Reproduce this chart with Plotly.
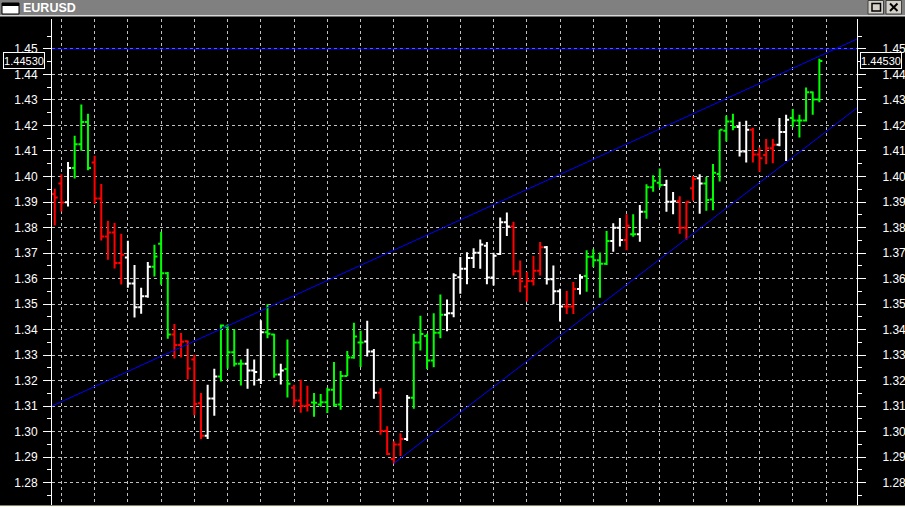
import plotly.graph_objects as go

# ---------------- data ----------------
SYMBOL = "EURUSD"
LAST_PRICE = 1.4453
LAST_PRICE_LABEL = "1.44530"

OPEN = [1.3931, 1.3973, 1.3899, 1.4033, 1.4126, 1.4214, 1.4055, 1.3914, 1.3765, 1.3780,
        1.3661, 1.3682, 1.3580, 1.3487, 1.3530, 1.3646, 1.3736, 1.3621, 1.3380, 1.3339,
        1.3354, 1.3282, 1.3111, 1.2983, 1.3129, 1.3216, 1.3411, 1.3311, 1.3266, 1.3266,
        1.3239, 1.3203, 1.3389, 1.3380, 1.3224, 1.3245, 1.3172, 1.3122, 1.3100, 1.3114,
        1.3106, 1.3115, 1.3164, 1.3106, 1.3218, 1.3290, 1.3349, 1.3353, 1.3314, 1.3152,
        1.3002, 1.2892, 1.2949, 1.2971, 1.3132, 1.3349, 1.3375, 1.3278, 1.3387, 1.3458,
        1.3464, 1.3605, 1.3638, 1.3680, 1.3701, 1.3728, 1.3604, 1.3696, 1.3821, 1.3804,
        1.3628, 1.3569, 1.3590, 1.3630, 1.3723, 1.3597, 1.3550, 1.3490, 1.3490, 1.3559,
        1.3610, 1.3685, 1.3672, 1.3658, 1.3747, 1.3799, 1.3751, 1.3774, 1.3774, 1.3862,
        1.3958, 1.3975, 1.3967, 1.3901, 1.3903, 1.3799, 1.3954, 1.3993, 1.3973, 1.3910,
        1.4010, 1.4179, 1.4216, 1.4194, 1.4098, 1.4183, 1.4086, 1.4084, 1.4111, 1.4124,
        1.4174, 1.4229, 1.4220, 1.4220, 1.4330, 1.4302]
HIGH = [1.3952, 1.4009, 1.4057, 1.4160, 1.4282, 1.4246, 1.4081, 1.3971, 1.3826, 1.3818,
        1.3775, 1.3748, 1.3653, 1.3564, 1.3665, 1.3732, 1.3783, 1.3625, 1.3422, 1.3386,
        1.3357, 1.3301, 1.3151, 1.3183, 1.3246, 1.3420, 1.3420, 1.3401, 1.3282, 1.3325,
        1.3282, 1.3436, 1.3499, 1.3383, 1.3266, 1.3361, 1.3183, 1.3203, 1.3179, 1.3151,
        1.3147, 1.3172, 1.3273, 1.3237, 1.3316, 1.3426, 1.3395, 1.3434, 1.3324, 1.3170,
        1.3021, 1.2962, 1.2993, 1.3143, 1.3383, 1.3454, 1.3383, 1.3464, 1.3537, 1.3518,
        1.3621, 1.3684, 1.3703, 1.3719, 1.3753, 1.3743, 1.3701, 1.3839, 1.3859, 1.3823,
        1.3671, 1.3625, 1.3688, 1.3743, 1.3727, 1.3651, 1.3560, 1.3551, 1.3586, 1.3617,
        1.3711, 1.3715, 1.3702, 1.3786, 1.3817, 1.3837, 1.3852, 1.3852, 1.3888, 1.3970,
        1.4005, 1.4031, 1.3987, 1.3939, 1.3923, 1.3902, 1.4002, 1.4009, 1.3998, 1.4049,
        1.4183, 1.4239, 1.4246, 1.4215, 1.4219, 1.4191, 1.4114, 1.4147, 1.4147, 1.4229,
        1.4242, 1.4265, 1.4242, 1.4349, 1.4333, 1.4462]
LOW = [1.3808, 1.3863, 1.3882, 1.3992, 1.4101, 1.4024, 1.3892, 1.3749, 1.3674, 1.3639,
       1.3576, 1.3564, 1.3447, 1.3462, 1.3525, 1.3608, 1.3575, 1.3364, 1.3286, 1.3290,
       1.3204, 1.3064, 1.2971, 1.2971, 1.3062, 1.3196, 1.3246, 1.3255, 1.3180, 1.3168,
       1.3180, 1.3186, 1.3366, 1.3211, 1.3184, 1.3133, 1.3097, 1.3074, 1.3078, 1.3058,
       1.3097, 1.3073, 1.3097, 1.3085, 1.3218, 1.3285, 1.3253, 1.3294, 1.3128, 1.2987,
       1.2908, 1.2875, 1.2904, 1.2963, 1.3089, 1.3318, 1.3245, 1.3252, 1.3366, 1.3393,
       1.3448, 1.3540, 1.3577, 1.3641, 1.3638, 1.3577, 1.3573, 1.3692, 1.3767, 1.3612,
       1.3546, 1.3510, 1.3573, 1.3612, 1.3576, 1.3499, 1.3431, 1.3461, 1.3461, 1.3537,
       1.3548, 1.3645, 1.3525, 1.3653, 1.3705, 1.3725, 1.3711, 1.3764, 1.3744, 1.3834,
       1.3940, 1.3956, 1.3862, 1.3852, 1.3775, 1.3752, 1.3905, 1.3854, 1.3866, 1.3868,
       1.3980, 1.4137, 1.4181, 1.4078, 1.4055, 1.4055, 1.4019, 1.4048, 1.4052, 1.4119,
       1.4061, 1.4193, 1.4153, 1.4216, 1.4242, 1.4291]
CLOSE = [1.3918, 1.3898, 1.4033, 1.4126, 1.4214, 1.4033, 1.3914, 1.3765, 1.3780, 1.3661,
         1.3693, 1.3580, 1.3487, 1.3530, 1.3646, 1.3686, 1.3621, 1.3380, 1.3339, 1.3352,
         1.3247, 1.3108, 1.2983, 1.3129, 1.3216, 1.3416, 1.3311, 1.3266, 1.3266, 1.3239,
         1.3233, 1.3389, 1.3383, 1.3224, 1.3239, 1.3187, 1.3122, 1.3100, 1.3104, 1.3113,
         1.3115, 1.3164, 1.3105, 1.3218, 1.3290, 1.3373, 1.3349, 1.3314, 1.3152, 1.3002,
         1.2912, 1.2949, 1.2971, 1.3132, 1.3349, 1.3382, 1.3278, 1.3387, 1.3458, 1.3464,
         1.3613, 1.3638, 1.3680, 1.3701, 1.3733, 1.3604, 1.3689, 1.3821, 1.3804, 1.3628,
         1.3589, 1.3590, 1.3630, 1.3723, 1.3597, 1.3550, 1.3490, 1.3490, 1.3559, 1.3606,
         1.3685, 1.3672, 1.3658, 1.3747, 1.3799, 1.3751, 1.3807, 1.3774, 1.3862, 1.3958,
         1.3983, 1.3967, 1.3901, 1.3903, 1.3799, 1.3901, 1.3990, 1.3973, 1.3908, 1.4015,
         1.4183, 1.4216, 1.4194, 1.4098, 1.4183, 1.4086, 1.4072, 1.4111, 1.4124, 1.4174,
         1.4223, 1.4220, 1.4220, 1.4330, 1.4302, 1.4453]
# bar colour class: r = red, g = green, w = white
BAR_CLASS = list("rrwgggrrrr" "rwwwwgggrr" "rrrwwggggw" "wwggwgrrrg" "gggggggwwr"
                 "rrrwgggggw" "wwwwwwwwwr" "rrrrwwwrrw" "ggggwwrgwg" "ggwwrrrwgg"
                 "gggwwrrrrw" "wggggg")
BAR_INDEX = list(range(1, len(OPEN) + 1))

# price axis labels
PRICE_TICKS = [1.28, 1.29, 1.30, 1.31, 1.32, 1.33, 1.34, 1.35, 1.36,
               1.37, 1.38, 1.39, 1.40, 1.41, 1.42, 1.43, 1.44, 1.45]
PRICE_TICK_TEXT = ["1.28", "1.29", "1.30", "1.31", "1.32", "1.33", "1.34", "1.35", "1.36",
                   "1.37", "1.38", "1.39", "1.40", "1.41", "1.42", "1.43", "1.44", "1.45"]
PRICE_MINOR = [1.275, 1.285, 1.295, 1.305, 1.315, 1.325, 1.335, 1.345, 1.355,
               1.365, 1.375, 1.385, 1.395, 1.405, 1.415, 1.425, 1.435, 1.445, 1.455]

# drawn objects (bar index, price)
HLINE_LEVEL = 1.45
UPPER_TREND_X = [0.59, 121.66]
UPPER_TREND_Y = [1.3100, 1.4539]
LOWER_TREND_X = [52.0, 121.66]
LOWER_TREND_Y = [1.2875, 1.4269]

# ---------------- view ----------------
X_RANGE = [0.59, 121.66]
Y_RANGE = [1.27118, 1.46176]
W, H = 905, 507
L, R, T, B = 52, 857, 19, 505  # plot frame in pixels

CLASS_COLORS = {"r": "#ff0000", "g": "#00ff00", "w": "#ffffff"}
GRID = "#c0c0c0"
FONT = "Liberation Sans, Arial, sans-serif"


def px(x):
    return (x - L) / (R - L)


def py(y):
    return (B - y) / (B - T)


fig = go.Figure()

for cls, col in CLASS_COLORS.items():
    idx = [i for i, c in enumerate(BAR_CLASS) if c == cls]
    fig.add_trace(go.Ohlc(
        x=[BAR_INDEX[i] for i in idx],
        open=[OPEN[i] for i in idx],
        high=[HIGH[i] for i in idx],
        low=[LOW[i] for i in idx],
        close=[CLOSE[i] for i in idx],
        increasing=dict(line=dict(color=col, width=2)),
        decreasing=dict(line=dict(color=col, width=2)),
        tickwidth=0.45,
        hoverinfo="skip",
        showlegend=False,
    ))

for xs, ys in [(UPPER_TREND_X, UPPER_TREND_Y), (LOWER_TREND_X, LOWER_TREND_Y)]:
    fig.add_trace(go.Scatter(x=xs, y=ys, mode="lines", yaxis="y2",
                             line=dict(color="#0000ff", width=1),
                             hoverinfo="skip", showlegend=False))

yaxis_common = dict(
    range=Y_RANGE, tickmode="array", tickvals=PRICE_TICKS, ticktext=PRICE_TICK_TEXT,
    ticks="outside", ticklen=8, tickwidth=1, tickcolor="white",
    showline=True, linecolor="white", linewidth=1, zeroline=False,
    tickfont=dict(family=FONT, size=12, color="white"),
    minor=dict(tickmode="array", tickvals=PRICE_MINOR, ticks="outside",
               ticklen=4, tickcolor="white", showgrid=False),
    automargin=False, fixedrange=True,
)

fig.update_layout(
    width=W, height=H,
    margin=dict(l=L, r=W - R, t=T, b=H - B, pad=0, autoexpand=False),
    paper_bgcolor="black", plot_bgcolor="black",
    showlegend=False,
    xaxis=dict(range=X_RANGE, rangeslider=dict(visible=False), showgrid=True,
               gridcolor=GRID, griddash="3px,3px", gridwidth=1, tick0=2, dtick=5,
               showticklabels=False, ticks="", zeroline=False, showline=False,
               automargin=False, fixedrange=True),
    yaxis=dict(side="left", showgrid=True, gridcolor=GRID, griddash="3px,3px",
               gridwidth=1, ticklabelstandoff=3, **yaxis_common),
    yaxis2=dict(side="right", overlaying="y", showgrid=False,
                ticklabelstandoff=14, **yaxis_common),
)

shapes = []
# horizontal level line
shapes.append(dict(type="line", xref="paper", yref="y", x0=0, x1=1,
                   y0=HLINE_LEVEL, y1=HLINE_LEVEL, line=dict(color="#0000ff", width=1)))
# window title bar
shapes.append(dict(type="rect", xref="paper", yref="paper", x0=px(0), x1=px(W),
                   y0=py(15), y1=py(0), fillcolor="#808080", line=dict(width=0), layer="above"))
shapes.append(dict(type="rect", xref="paper", yref="paper", x0=px(0), x1=px(W),
                   y0=py(16.5), y1=py(15), fillcolor="#d8d8d8", line=dict(width=0), layer="above"))
# title icon
shapes.append(dict(type="rect", xref="paper", yref="paper", x0=px(2), x1=px(19),
                   y0=py(14), y1=py(3), fillcolor="white", line=dict(color="black", width=1), layer="above"))
shapes.append(dict(type="rect", xref="paper", yref="paper", x0=px(2), x1=px(19),
                   y0=py(6), y1=py(3), fillcolor="black", line=dict(width=0), layer="above"))
# title buttons
for bx in (868, 886):
    shapes.append(dict(type="rect", xref="paper", yref="paper", x0=px(bx), x1=px(bx + 15.5),
                       y0=py(14), y1=py(0.5), fillcolor="#d4d0c8",
                       line=dict(color="#404040", width=1), layer="above"))
shapes.append(dict(type="rect", xref="paper", yref="paper", x0=px(872), x1=px(880.5),
                   y0=py(11), y1=py(3.5), fillcolor="rgba(0,0,0,0)",
                   line=dict(color="black", width=1.5), layer="above"))
shapes.append(dict(type="line", xref="paper", yref="paper", x0=px(890), x1=px(897.5),
                   y0=py(11), y1=py(3.5), line=dict(color="black", width=2), layer="above"))
shapes.append(dict(type="line", xref="paper", yref="paper", x0=px(890), x1=px(897.5),
                   y0=py(3.5), y1=py(11), line=dict(color="black", width=2), layer="above"))
# bottom strip
shapes.append(dict(type="rect", xref="paper", yref="paper", x0=px(0), x1=px(W),
                   y0=py(H), y1=py(B + 0.5), fillcolor="#fbfbe8", line=dict(width=0), layer="above"))
fig.update_layout(shapes=shapes)

annotations = [
    dict(text=SYMBOL, xref="paper", yref="paper", x=px(21), y=py(8),
         xanchor="left", yanchor="middle", showarrow=False,
         font=dict(family=FONT, size=12.5, color="white", weight="bold")),
]
for cx in (24, 881):
    annotations.append(dict(text=LAST_PRICE_LABEL, xref="paper", yref="y", x=px(cx), y=LAST_PRICE,
                            xanchor="center", yanchor="middle", showarrow=False,
                            width=40, height=15, borderpad=0, borderwidth=1,
                            bordercolor="white", bgcolor="black",
                            font=dict(family=FONT, size=11, color="white")))
fig.update_layout(annotations=annotations)

# remove the default page margin so the chart fills the window from its top-left corner
fig.write_html("out.html",
               config={"displayModeBar": False},
               post_script="document.body.style.margin='0';document.body.style.background='black';")
